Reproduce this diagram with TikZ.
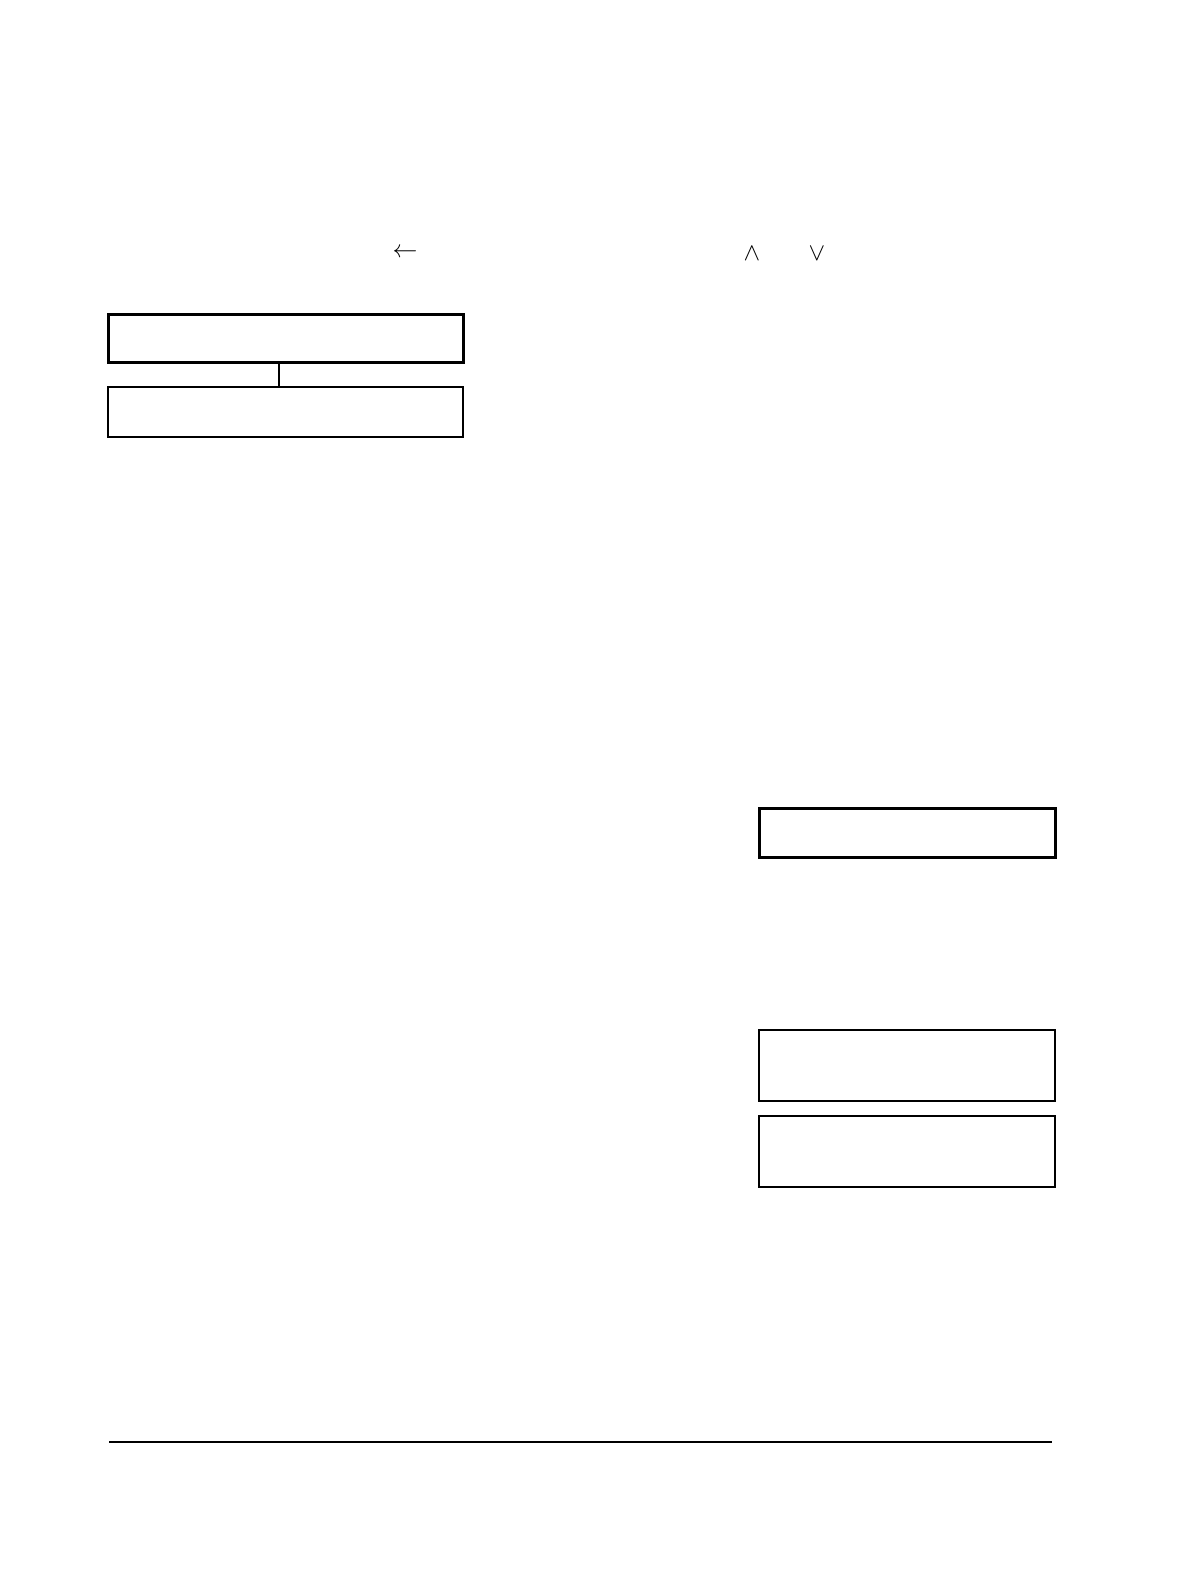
\documentclass[tikz,border=0pt]{standalone}
\usepackage{fontspec}
\begin{document}
\begin{tikzpicture}[x=1pt,y=-1pt,
  thickbox/.style={draw, line width=3pt, inner sep=0pt, anchor=north west},
  thinbox/.style={draw, line width=1.6pt, inner sep=0pt, anchor=north west},
  glyph/.style={inner sep=0pt, font=\fontsize{25}{30}\selectfont}]
\useasboundingbox (0,0) rectangle (1191,1581);
\fill[white] (0,0) rectangle (1191,1581);
% symbols row
\node[glyph, font=\fontsize{29}{34}\selectfont] (larr) at (405,253) {$\leftarrow$};
\node[glyph] (wedgeg) at (752,254) {$\wedge$};
\node[glyph] (veeg) at (817,254) {$\vee$};
% left boxes
\node[thickbox, minimum width=355pt, minimum height=48pt] (b1) at (107,313) {};
\node[thinbox, minimum width=355pt, minimum height=50pt] (b2) at (107,386) {};
\draw[line width=1.8pt] (b1.south -| 279,0) -- (b2.north -| 279,0);
% right boxes
\node[thickbox, minimum width=296pt, minimum height=49pt] (b3) at (758,807) {};
\node[thinbox, minimum width=296pt, minimum height=71pt] (b4) at (758,1029) {};
\node[thinbox, minimum width=296pt, minimum height=71pt] (b5) at (758,1115) {};
% bottom rule
\coordinate (rl) at (109,1442);
\coordinate (rr) at (1052,1442);
\draw[line width=1.5pt] (rl) -- (rr);
\end{tikzpicture}
\end{document}
